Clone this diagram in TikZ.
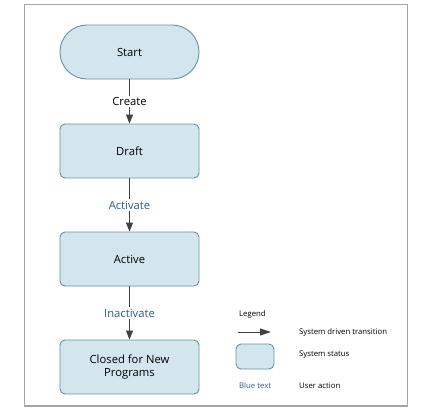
\documentclass[tikz,border=0pt]{standalone}
\usepackage{fontspec}
\setmainfont{Open Sans}
\usetikzlibrary{arrows.meta}
\definecolor{boxfill}{HTML}{D3E6EE}
\definecolor{boxline}{HTML}{6393A3}
\definecolor{frameline}{HTML}{A6A6A6}
\definecolor{bluetxt}{HTML}{2F5A8C}
\definecolor{arrowc}{HTML}{404040}
\begin{document}
\begin{tikzpicture}[x=1bp,y=-1bp,
  statebox/.style={draw=boxline,fill=boxfill,line width=0.9bp,rounded corners=5bp,minimum width=139bp,minimum height=54bp,inner sep=0pt,font=\fontsize{11.3}{13.5}\selectfont,align=center},
  startbox/.style={statebox,rounded corners=26.9bp},
  flow/.style={draw=arrowc,line width=1bp,-{Triangle[length=9bp,width=7bp]}},
  legflow/.style={draw=arrowc,line width=1bp,-{Triangle[length=11bp,width=7bp]}},
  lbl/.style={fill=white,inner sep=1.5bp,font=\fontsize{11.3}{13.5}\selectfont},
  leg/.style={font=\fontsize{7.8}{9}\selectfont,anchor=west,inner sep=0pt}]
\useasboundingbox (0,0) rectangle (432,413);
\draw[frameline,line width=1.6bp] (24.5,4.5) rectangle (407.5,406);
\node[startbox] (start) at (129.5,52) {Start};
\node[statebox] (draft) at (129.5,151) {Draft};
\node[statebox] (active) at (129.5,259) {Active};
\node[statebox] (closed) at (129.5,367) {Closed for New\\Programs};
\draw[flow] (start) -- node[lbl] {Create} (draft);
\draw[flow] (draft) -- node[lbl,text=bluetxt] {Activate} (active);
\draw[flow] (active) -- node[lbl,text=bluetxt] {Inactivate} (closed);
% legend
\node[leg] (legt) at (239,314) {Legend};
\coordinate (la) at (238,332);
\coordinate (lb) at (271,332);
\draw[legflow] (la) -- (lb);
\node[draw=boxline,fill=boxfill,line width=0.9bp,rounded corners=5bp,minimum width=38bp,minimum height=25bp,inner sep=0pt] (legbox) at (255,356.5) {};
\node[leg,text=bluetxt] (legblue) at (239,386) {Blue text};
\node[leg] (l1) at (299,332) {System driven transition};
\node[leg] (l2) at (299,355) {System status};
\node[leg] (l3) at (299,386) {User action};
\end{tikzpicture}
\end{document}
